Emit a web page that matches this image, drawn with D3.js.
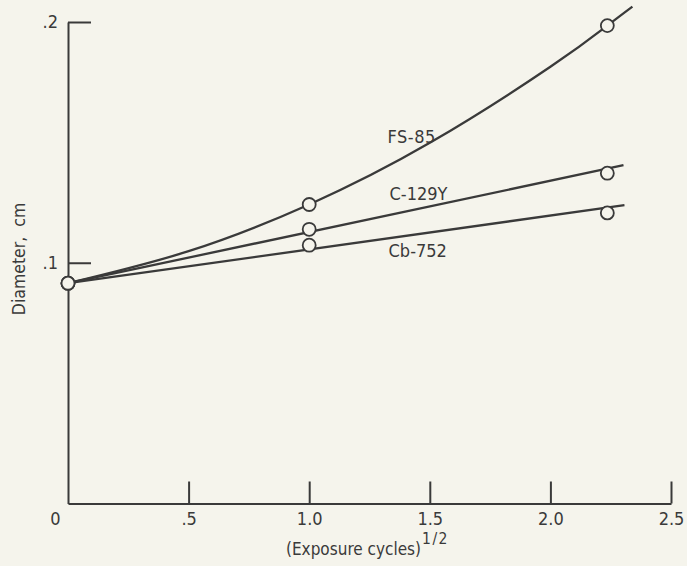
<!DOCTYPE html>
<html><head><meta charset="utf-8">
<script src="https://cdn.jsdelivr.net/npm/d3@7"></script>
<style>
html,body{margin:0;padding:0;background:#f5f4ec;}
svg{display:block;}
text{font-family:"DejaVu Sans Condensed","DejaVu Sans",sans-serif;font-stretch:condensed;fill:#3a3a3a;}
</style></head><body>
<svg id="chart" width="687" height="566"></svg>
<script>
// ---- data ----
const xTicks = [0, 0.5, 1.0, 1.5, 2.0, 2.5];
const xTickLabels = ["0", ".5", "1.0", "1.5", "2.0", "2.5"];
const yTicks = [0.1, 0.2];
const yTickLabels = [".1", ".2"];
const seriesNames = ["FS-85", "C-129Y", "Cb-752"];
// measured points: x = (exposure cycles)^1/2
const pointX = [0, 1, 2.236];
const fs85Points = [0.0915, 0.1242, 0.1985];
const c129yPoints = [0.0915, 0.1139, 0.1372];
const cb752Points = [0.0915, 0.1073, 0.1207];
// fitted curves
const fs85CurveX = [0, 0.5, 1, 1.5, 2, 2.236, 2.34];
const fs85CurveY = [0.0915, 0.1048, 0.1242, 0.1498, 0.1814, 0.1985, 0.2064];
const c129yCurveX = [0, 2.303];
const c129yCurveY = [0.0915, 0.1405];
const cb752CurveX = [0, 2.307];
const cb752CurveY = [0.0915, 0.1239];
// label anchors (data units)
const labelX = [1.325, 1.333, 1.329];
const labelY = [0.1497, 0.1260, 0.1023];

// ---- drawing ----
const svg = d3.select("#chart");
const ink = "#3a3a3a";
const x = d3.scaleLinear().domain([0, 2.5]).range([68, 671]);
const y = d3.scaleLinear().domain([0, 0.2]).range([503.5, 22]);

// x axis
const gx = svg.append("g").attr("transform", `translate(0,${y(0)})`)
  .call(d3.axisBottom(x).tickValues(xTicks).tickSizeInner(-22).tickSizeOuter(0)
    .tickFormat((d, i) => xTickLabels[i]));
gx.select(".domain").attr("stroke", ink).attr("stroke-width", 2);
gx.selectAll(".tick line").attr("stroke", ink).attr("stroke-width", 2);
gx.selectAll(".tick").filter(d => d === 0).select("line").remove();
gx.selectAll(".tick text")
  .attr("y", 21).attr("dy", 0)
  .attr("dx", d => d === 0 ? -13 : 0)
  .style("font-size", "18px")
  .attr("fill", ink).attr("stroke", "none");

// y axis
const gy = svg.append("g").attr("transform", `translate(${x(0)},0)`)
  .call(d3.axisLeft(y).tickValues(yTicks).tickSizeInner(-23).tickSizeOuter(0).tickPadding(10)
    .tickFormat((d, i) => yTickLabels[i]));
gy.select(".domain").attr("stroke", ink).attr("stroke-width", 2);
gy.selectAll(".tick line").attr("stroke", ink).attr("stroke-width", 2);
gy.selectAll(".tick text").style("font-size", "18px").attr("fill", ink);

// curves
const line = d3.line().x(d => x(d[0])).y(d => y(d[1])).curve(d3.curveNatural);
const curves = [
  d3.zip(fs85CurveX, fs85CurveY),
  d3.zip(c129yCurveX, c129yCurveY),
  d3.zip(cb752CurveX, cb752CurveY)
];
svg.append("g").selectAll("path").data(curves).join("path")
  .attr("d", line).attr("fill", "none").attr("stroke", ink).attr("stroke-width", 2.3);

// markers
const pts = [];
[fs85Points, c129yPoints, cb752Points].forEach(arr => arr.forEach((v, i) => pts.push([pointX[i], v])));
svg.append("g").selectAll("circle").data(pts).join("circle")
  .attr("cx", d => x(d[0])).attr("cy", d => y(d[1])).attr("r", 6.5)
  .attr("fill", "#f5f4ec").attr("stroke", ink).attr("stroke-width", 1.8);

// series labels
svg.append("g").selectAll("text").data(seriesNames).join("text")
  .attr("x", (d, i) => x(labelX[i])).attr("y", (d, i) => y(labelY[i]))
  .style("font-size", "18px").style("letter-spacing", (d, i) => i === 0 ? "0.5px" : "0px")
  .text(d => d);

// axis titles
const xt = svg.append("text")
  .attr("x", (x(0) + x(2.5)) / 2 - 2).attr("y", 555)
  .attr("text-anchor", "middle")
  .style("font-size", "17px");
xt.append("tspan").text("(Exposure cycles)");
xt.append("tspan").attr("dy", -11).attr("dx", 1).style("font-size", "15.5px").style("letter-spacing", "1.5px").text("1/2");

svg.append("text")
  .attr("transform", "translate(25,259) rotate(-90)")
  .attr("text-anchor", "middle")
  .style("font-size", "17.5px").style("white-space", "pre")
  .text("Diameter,  cm");
</script>
</body></html>
